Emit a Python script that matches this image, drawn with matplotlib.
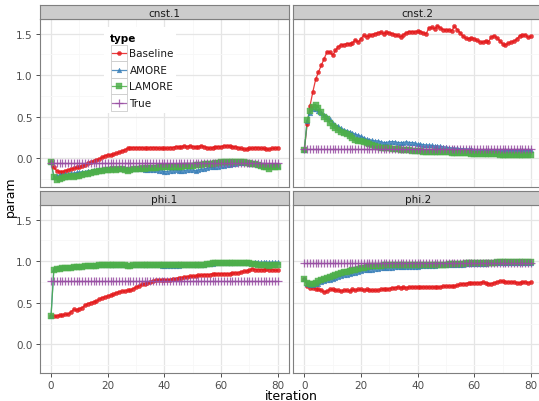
import matplotlib
matplotlib.use("Agg")
import matplotlib.pyplot as plt
from matplotlib.patches import Rectangle
from matplotlib.lines import Line2D
import numpy as np

# ---- data ----
iterations = np.arange(81)
panels = ["cnst.1", "cnst.2", "phi.1", "phi.2"]
types = ["Baseline", "AMORE", "LAMORE", "True"]

cnst1_baseline = [-0.04, -0.11, -0.15, -0.16, -0.16, -0.15, -0.14, -0.13, -0.12, -0.11,
                  -0.10, -0.09, -0.08, -0.06, -0.05, -0.03, -0.02, -0.01, 0.01, 0.03,
                  0.04, 0.04, 0.05, 0.06, 0.07, 0.09, 0.10, 0.12, 0.13, 0.13,
                  0.13, 0.13, 0.13, 0.12, 0.12, 0.13, 0.13, 0.13, 0.12, 0.12,
                  0.12, 0.12, 0.13, 0.13, 0.14, 0.14, 0.14, 0.15, 0.14, 0.15,
                  0.14, 0.14, 0.14, 0.15, 0.14, 0.13, 0.12, 0.13, 0.14, 0.14,
                  0.14, 0.15, 0.15, 0.15, 0.14, 0.14, 0.13, 0.12, 0.11, 0.11,
                  0.12, 0.12, 0.13, 0.13, 0.12, 0.12, 0.11, 0.11, 0.12, 0.12, 0.13]
cnst1_amore = [-0.05, -0.22, -0.21, -0.20, -0.20, -0.19, -0.19, -0.18, -0.18, -0.17,
               -0.17, -0.16, -0.16, -0.15, -0.15, -0.14, -0.14, -0.13, -0.13, -0.13,
               -0.12, -0.12, -0.12, -0.12, -0.13, -0.12, -0.12, -0.13, -0.13, -0.13,
               -0.13, -0.13, -0.13, -0.14, -0.14, -0.14, -0.14, -0.14, -0.15, -0.15,
               -0.16, -0.16, -0.15, -0.15, -0.14, -0.15, -0.15, -0.15, -0.14, -0.14,
               -0.14, -0.15, -0.14, -0.13, -0.13, -0.12, -0.11, -0.11, -0.10, -0.10,
               -0.09, -0.09, -0.08, -0.08, -0.07, -0.07, -0.06, -0.06, -0.06, -0.06,
               -0.07, -0.07, -0.07, -0.08, -0.08, -0.08, -0.09, -0.09, -0.08, -0.09, -0.09]
cnst1_lamore = [-0.04, -0.22, -0.26, -0.25, -0.24, -0.22, -0.23, -0.21, -0.22, -0.21,
                -0.21, -0.20, -0.19, -0.19, -0.18, -0.17, -0.16, -0.15, -0.15, -0.14,
                -0.14, -0.14, -0.13, -0.14, -0.13, -0.13, -0.14, -0.15, -0.14, -0.13,
                -0.13, -0.13, -0.12, -0.13, -0.12, -0.12, -0.12, -0.12, -0.11, -0.11,
                -0.11, -0.11, -0.11, -0.10, -0.10, -0.10, -0.10, -0.09, -0.09, -0.09,
                -0.09, -0.08, -0.08, -0.08, -0.07, -0.07, -0.07, -0.07, -0.06, -0.06,
                -0.05, -0.05, -0.05, -0.04, -0.04, -0.04, -0.05, -0.05, -0.05, -0.06,
                -0.06, -0.07, -0.07, -0.08, -0.09, -0.10, -0.11, -0.13, -0.11, -0.10, -0.10]

cnst2_baseline = [0.10, 0.41, 0.63, 0.80, 0.95, 1.04, 1.12, 1.20, 1.28, 1.28,
                  1.24, 1.30, 1.345, 1.365, 1.37, 1.38, 1.38, 1.39, 1.425, 1.40,
                  1.44, 1.48, 1.465, 1.48, 1.49, 1.50, 1.51, 1.52, 1.50, 1.52,
                  1.51, 1.50, 1.49, 1.48, 1.46, 1.49, 1.51, 1.525, 1.525, 1.52,
                  1.53, 1.525, 1.51, 1.50, 1.57, 1.575, 1.56, 1.595, 1.57, 1.55,
                  1.545, 1.545, 1.535, 1.59, 1.55, 1.51, 1.47, 1.445, 1.44, 1.45,
                  1.44, 1.42, 1.40, 1.395, 1.415, 1.405, 1.46, 1.475, 1.45, 1.415,
                  1.375, 1.365, 1.385, 1.40, 1.41, 1.435, 1.475, 1.485, 1.49, 1.455, 1.47]
cnst2_amore = [0.10, 0.45, 0.55, 0.59, 0.59, 0.57, 0.55, 0.52, 0.50, 0.47,
               0.43, 0.40, 0.385, 0.36, 0.345, 0.33, 0.32, 0.305, 0.29, 0.28,
               0.265, 0.25, 0.23, 0.225, 0.215, 0.21, 0.21, 0.20, 0.19, 0.19,
               0.20, 0.20, 0.20, 0.19, 0.19, 0.19, 0.20, 0.19, 0.19, 0.185,
               0.17, 0.17, 0.165, 0.16, 0.16, 0.155, 0.15, 0.15, 0.145, 0.14,
               0.135, 0.13, 0.125, 0.12, 0.12, 0.115, 0.115, 0.11, 0.11, 0.11,
               0.105, 0.105, 0.10, 0.10, 0.10, 0.10, 0.10, 0.10, 0.10, 0.10,
               0.10, 0.10, 0.095, 0.095, 0.095, 0.095, 0.095, 0.095, 0.095, 0.095, 0.095]
cnst2_lamore = [0.10, 0.46, 0.57, 0.62, 0.64, 0.61, 0.56, 0.50, 0.47, 0.42,
                0.385, 0.37, 0.345, 0.32, 0.305, 0.29, 0.27, 0.25, 0.225, 0.21,
                0.205, 0.20, 0.185, 0.17, 0.16, 0.15, 0.14, 0.13, 0.13, 0.125,
                0.12, 0.115, 0.11, 0.11, 0.105, 0.10, 0.095, 0.095, 0.09, 0.09,
                0.085, 0.085, 0.08, 0.08, 0.08, 0.075, 0.075, 0.075, 0.07, 0.07,
                0.07, 0.07, 0.065, 0.065, 0.065, 0.065, 0.06, 0.06, 0.06, 0.055,
                0.055, 0.05, 0.05, 0.05, 0.05, 0.05, 0.05, 0.05, 0.05, 0.045,
                0.045, 0.045, 0.045, 0.045, 0.04, 0.045, 0.045, 0.045, 0.045, 0.045, 0.045]

phi1_baseline = [0.34, 0.34, 0.34, 0.35, 0.35, 0.36, 0.36, 0.39, 0.42, 0.41,
                 0.43, 0.44, 0.47, 0.49, 0.50, 0.51, 0.52, 0.54, 0.56, 0.57,
                 0.58, 0.59, 0.60, 0.62, 0.63, 0.64, 0.64, 0.65, 0.65, 0.67,
                 0.69, 0.70, 0.72, 0.73, 0.74, 0.75, 0.76, 0.77, 0.77, 0.78,
                 0.77, 0.78, 0.78, 0.79, 0.79, 0.80, 0.80, 0.81, 0.81, 0.82,
                 0.82, 0.82, 0.83, 0.83, 0.84, 0.84, 0.84, 0.85, 0.85, 0.85,
                 0.85, 0.85, 0.85, 0.85, 0.86, 0.86, 0.86, 0.87, 0.88, 0.88,
                 0.89, 0.91, 0.90, 0.90, 0.90, 0.90, 0.91, 0.90, 0.90, 0.89, 0.89]
phi1_amore = [0.34, 0.91, 0.92, 0.92, 0.93, 0.93, 0.93, 0.93, 0.94, 0.94,
              0.94, 0.94, 0.95, 0.95, 0.95, 0.95, 0.95, 0.96, 0.96, 0.96,
              0.96, 0.96, 0.96, 0.96, 0.96, 0.955, 0.955, 0.955, 0.955, 0.955,
              0.955, 0.955, 0.955, 0.955, 0.955, 0.95, 0.95, 0.95, 0.95, 0.945,
              0.94, 0.94, 0.94, 0.945, 0.945, 0.945, 0.95, 0.95, 0.95, 0.95,
              0.95, 0.955, 0.955, 0.955, 0.96, 0.965, 0.97, 0.97, 0.975, 0.975,
              0.975, 0.975, 0.975, 0.975, 0.975, 0.975, 0.975, 0.98, 0.98, 0.98,
              0.98, 0.98, 0.985, 0.985, 0.985, 0.985, 0.985, 0.985, 0.985, 0.985, 0.985]
phi1_lamore = [0.34, 0.90, 0.91, 0.91, 0.92, 0.92, 0.92, 0.92, 0.93, 0.93,
               0.93, 0.93, 0.94, 0.94, 0.94, 0.94, 0.94, 0.95, 0.95, 0.95,
               0.95, 0.95, 0.955, 0.955, 0.955, 0.955, 0.95, 0.945, 0.945, 0.95,
               0.95, 0.95, 0.955, 0.955, 0.955, 0.955, 0.96, 0.96, 0.96, 0.96,
               0.96, 0.96, 0.96, 0.96, 0.96, 0.96, 0.96, 0.96, 0.96, 0.96,
               0.96, 0.96, 0.96, 0.96, 0.96, 0.965, 0.97, 0.975, 0.975, 0.975,
               0.975, 0.975, 0.975, 0.975, 0.975, 0.975, 0.975, 0.975, 0.975, 0.975,
               0.975, 0.97, 0.965, 0.96, 0.96, 0.955, 0.95, 0.945, 0.95, 0.96, 0.96]

phi2_baseline = [0.79, 0.70, 0.68, 0.68, 0.67, 0.66, 0.65, 0.63, 0.64, 0.66,
                 0.66, 0.65, 0.65, 0.64, 0.65, 0.65, 0.64, 0.66, 0.65, 0.66,
                 0.66, 0.65, 0.66, 0.65, 0.65, 0.65, 0.65, 0.66, 0.67, 0.66,
                 0.67, 0.68, 0.68, 0.69, 0.68, 0.69, 0.68, 0.69, 0.69, 0.69,
                 0.69, 0.69, 0.69, 0.69, 0.69, 0.69, 0.69, 0.69, 0.69, 0.70,
                 0.70, 0.70, 0.70, 0.70, 0.71, 0.72, 0.73, 0.73, 0.74, 0.74,
                 0.74, 0.74, 0.74, 0.75, 0.74, 0.73, 0.73, 0.74, 0.75, 0.76,
                 0.76, 0.75, 0.75, 0.75, 0.75, 0.74, 0.74, 0.75, 0.75, 0.74, 0.75]
phi2_amore = [0.79, 0.73, 0.71, 0.71, 0.72, 0.73, 0.75, 0.76, 0.77, 0.78,
              0.79, 0.80, 0.81, 0.82, 0.83, 0.84, 0.85, 0.86, 0.86, 0.87,
              0.88, 0.89, 0.89, 0.90, 0.90, 0.91, 0.91, 0.915, 0.915, 0.92,
              0.92, 0.92, 0.925, 0.925, 0.925, 0.93, 0.93, 0.93, 0.935, 0.935,
              0.935, 0.94, 0.94, 0.94, 0.945, 0.945, 0.945, 0.95, 0.95, 0.95,
              0.955, 0.955, 0.955, 0.96, 0.96, 0.96, 0.96, 0.965, 0.965, 0.965,
              0.97, 0.97, 0.97, 0.97, 0.97, 0.975, 0.975, 0.975, 0.975, 0.975,
              0.975, 0.975, 0.975, 0.98, 0.98, 0.98, 0.98, 0.98, 0.98, 0.98, 0.98]
phi2_lamore = [0.79, 0.74, 0.72, 0.72, 0.74, 0.76, 0.78, 0.79, 0.80, 0.81,
               0.82, 0.84, 0.85, 0.86, 0.87, 0.875, 0.88, 0.89, 0.90, 0.91,
               0.915, 0.92, 0.93, 0.94, 0.94, 0.945, 0.945, 0.945, 0.95, 0.95,
               0.95, 0.95, 0.95, 0.95, 0.95, 0.95, 0.95, 0.95, 0.95, 0.95,
               0.95, 0.955, 0.955, 0.955, 0.955, 0.955, 0.96, 0.96, 0.96, 0.96,
               0.96, 0.965, 0.965, 0.965, 0.97, 0.97, 0.97, 0.975, 0.975, 0.975,
               0.98, 0.98, 0.98, 0.98, 0.98, 0.98, 0.98, 0.98, 0.985, 0.985,
               0.985, 0.985, 0.985, 0.985, 0.985, 0.985, 0.985, 0.985, 0.99, 0.99, 0.99]

# true parameter value per panel (constant over iterations)
true_values = [-0.055, 0.11, 0.76, 0.975]

series = {
    "cnst.1": [cnst1_baseline, cnst1_amore, cnst1_lamore],
    "cnst.2": [cnst2_baseline, cnst2_amore, cnst2_lamore],
    "phi.1": [phi1_baseline, phi1_amore, phi1_lamore],
    "phi.2": [phi2_baseline, phi2_amore, phi2_lamore],
}

# ---- style ----
colors = ["#E41A1C", "#377EB8", "#4DAF4A", "#984EA3"]
markers = ["o", "^", "s", "+"]
msizes = [3.0, 3.4, 4.3, 5.5]
ALPHA = 0.85

W, H = 539, 402
fig = plt.figure(figsize=(W / 100, H / 100), dpi=100)


def px_rect(left, top, width, height):
    return [left / W, 1 - (top + height) / H, width / W, height / H]


col_left = [39.7, 293.0]
row_top = [19.5, 205.5]
pw, ph, sh = 249.3, 168.8, 13.3

for k, name in enumerate(panels):
    r, c = divmod(k, 2)
    ax = fig.add_axes(px_rect(col_left[c], row_top[r], pw, ph))
    ax.set_xlim(-4, 84)
    ax.set_ylim(-0.349, 1.683)
    ax.set_xticks([0, 20, 40, 60, 80])
    ax.set_xticks([10, 30, 50, 70], minor=True)
    ax.set_yticks([0.0, 0.5, 1.0, 1.5])
    ax.set_yticks([-0.25, 0.25, 0.75, 1.25], minor=True)
    ax.grid(which="major", color="#e5e5e5", lw=0.9)
    ax.grid(which="minor", color="#f7f7f7", lw=0.6)
    ax.set_axisbelow(True)
    for s in ax.spines.values():
        s.set_color("#7f7f7f")
        s.set_linewidth(0.8)
    ax.tick_params(which="minor", length=0)
    ax.tick_params(which="major", length=3, width=0.6, color="#333333",
                   labelsize=7.5, labelcolor="#4d4d4d", pad=2)
    if c == 1:
        ax.tick_params(axis="y", length=0, labelleft=False)
    else:
        ax.set_yticklabels(["0.0", "0.5", "1.0", "1.5"])
    if r == 0:
        ax.tick_params(axis="x", length=0, labelbottom=False)

    vals = series[name] + [[true_values[k]] * len(iterations)]
    for i, y in enumerate(vals):
        ax.plot(iterations, y, color=colors[i], lw=0.9, alpha=ALPHA, zorder=2 + i * 0.1)
    for i, y in enumerate(vals):
        ax.plot(iterations, y, ls="none", marker=markers[i], ms=msizes[i],
                color=colors[i], mec=colors[i], mew=0.9 if i == 3 else 0.3,
                alpha=ALPHA, zorder=3 + i * 0.1)

    # strip
    sax = fig.add_axes(px_rect(col_left[c], row_top[r] - sh, pw, sh))
    sax.set_facecolor("#cccccc")
    sax.set_xticks([])
    sax.set_yticks([])
    for s in sax.spines.values():
        s.set_color("#7f7f7f")
        s.set_linewidth(0.8)
    sax.text(0.5, 0.45, name, ha="center", va="center", fontsize=7.5,
             color="#1a1a1a", transform=sax.transAxes)

fig.text(291 / W, 1 - 397 / H, "iteration", ha="center", va="center", fontsize=9)
fig.text(10 / W, 1 - 197 / H, "param", ha="center", va="center", fontsize=9,
         rotation=90)

# legend drawn in pixel space on an overlay
lax = fig.add_axes([0, 0, 1, 1])
lax.set_xlim(0, W)
lax.set_ylim(H, 0)
lax.axis("off")
lax.add_patch(Rectangle((104, 28), 72, 86, facecolor="white", edgecolor="none"))
lax.text(109.5, 38.5, "type", fontsize=7.5, fontweight="bold", ha="left", va="center")
key = 16.5
for i, lab in enumerate(types):
    y0 = 45.8 + i * key
    lax.add_patch(Rectangle((110.7, y0), 16, key, facecolor="white",
                            edgecolor="#cccccc", lw=0.6))
    yc = y0 + key / 2
    lax.add_line(Line2D([111.5, 126], [yc, yc], color=colors[i], lw=0.9, alpha=ALPHA))
    lax.add_line(Line2D([118.7], [yc], marker=markers[i], ms=msizes[i], color=colors[i],
                        mec=colors[i], mew=0.9 if i == 3 else 0.3, alpha=ALPHA))
    lax.text(129.5, yc, lab, fontsize=7.5, ha="left", va="center", color="#1a1a1a")

fig.savefig("out.png", dpi=100)
